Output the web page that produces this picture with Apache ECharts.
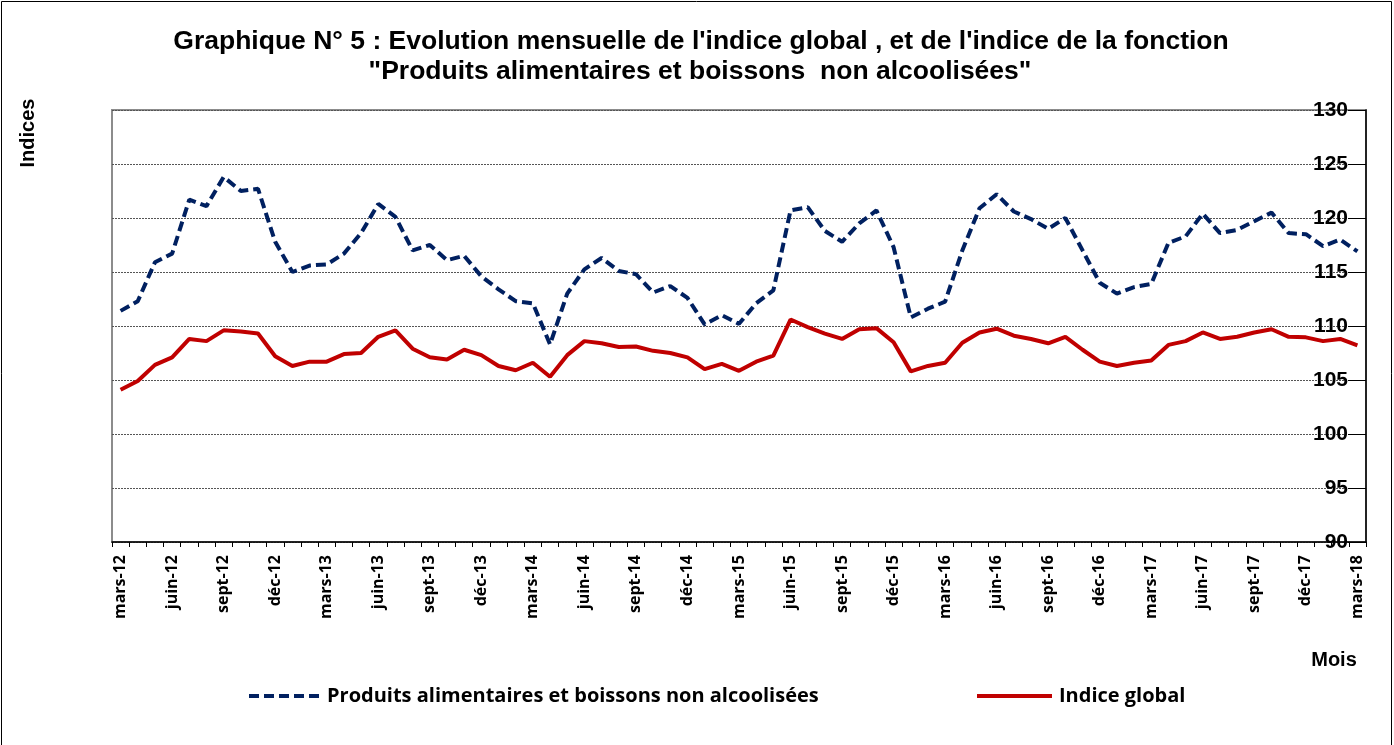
<!DOCTYPE html>
<html>
<head>
<meta charset="utf-8">
<script src="https://cdn.jsdelivr.net/npm/echarts@6/dist/echarts.min.js"></script>
<style>html,body{margin:0;padding:0;background:#fff}#c{width:1394px;height:745px}</style>
</head>
<body>
<div id="c"></div>
<script>
const monthNames = ['janv','févr','mars','avr','mai','juin','juil','août','sept','oct','nov','déc'];
const years = ['12','13','14','15','16','17','18'];
const foodName = 'Produits alimentaires et boissons non alcoolisées';
const globalName = 'Indice global';
const titleLines = ["Graphique N° 5 : Evolution mensuelle de l'indice global , et de l'indice de la fonction",
  "\"Produits alimentaires et boissons  non alcoolisées\""];
const foodValues = [111.4,112.3,115.9,116.7,121.7,121.1,123.8,122.5,122.7,117.8,115.0,115.6,
  115.7,116.7,118.6,121.3,120.1,117.0,117.5,116.1,116.5,114.6,113.4,112.3,
  112.1,108.3,113.0,115.25,116.3,115.1,114.8,113.1,113.7,112.6,110.15,111.0,
  110.2,112.1,113.3,120.7,121.0,118.8,117.8,119.5,120.7,117.3,110.8,111.6,
  112.25,117.0,120.9,122.2,120.6,119.9,119.0,120.0,117.0,114.0,113.0,113.6,
  113.9,117.7,118.3,120.4,118.6,118.9,119.7,120.5,118.6,118.5,117.4,118.0,
  116.9];
const globalValues = [104.1,104.9,106.4,107.1,108.8,108.6,109.6,109.5,109.3,107.2,106.3,106.7,
  106.7,107.4,107.5,109.0,109.6,107.9,107.1,106.9,107.8,107.3,106.3,105.9,
  106.6,105.3,107.3,108.6,108.4,108.05,108.1,107.7,107.5,107.1,106.0,106.5,
  105.85,106.7,107.25,110.6,109.9,109.3,108.8,109.7,109.8,108.5,105.8,106.3,
  106.6,108.45,109.4,109.75,109.1,108.8,108.4,109.0,107.8,106.7,106.3,106.6,
  106.8,108.25,108.6,109.4,108.8,109.0,109.4,109.7,109.0,108.95,108.6,108.8,
  108.2];
const yTicks = {min: 90, max: 130, interval: 5};

// categories mars-12 ... mars-18
const categories = [];
for (let y = 0; y < years.length; y++) {
  for (let m = 0; m < 12; m++) {
    if (y === 0 && m < 2) continue;
    if (y === years.length - 1 && m > 2) continue;
    categories.push(monthNames[m] + '-' + years[y]);
  }
}

const chart = echarts.init(document.getElementById('c'), null, {renderer: 'canvas'});
const titleFont = {fontFamily: 'Liberation Sans, Arial', fontWeight: 'bold', fontSize: 26.5, fill: '#000', align: 'center', verticalAlign: 'middle'};
const option = {
  backgroundColor: '#fff',
  animation: false,
  graphic: [
    {type: 'rect', shape: {x: 1.5, y: 1.5, width: 1390, height: 800}, style: {fill: 'none', stroke: '#000', lineWidth: 1}, silent: true},
    {type: 'text', x: 701, y: 42, style: Object.assign({text: titleLines[0]}, titleFont)},
    {type: 'text', x: 700, y: 72, style: Object.assign({text: titleLines[1]}, titleFont)},
    {type: 'text', x: 28, y: 133, rotation: Math.PI / 2,
      style: {text: 'Indices', fontFamily: 'Liberation Sans, Arial', fontWeight: 'bold', fontSize: 20, fill: '#000', align: 'center', verticalAlign: 'middle'}},
    {type: 'text', x: 1334, y: 660,
      style: {text: 'Mois', fontFamily: 'Liberation Sans, Arial', fontWeight: 'bold', fontSize: 20, fill: '#000', align: 'center', verticalAlign: 'middle'}}
  ],
  legend: [
    {left: 242, top: 681, itemWidth: 71, itemHeight: 14, itemGap: 8, data: [foodName],
      itemStyle: {opacity: 0}, lineStyle: {width: 4},
      textStyle: {fontFamily: 'Open Sans', fontWeight: 'bold', fontSize: 20, color: '#000', padding: [0, 0, 0, 2]}},
    {left: 970, top: 681, itemWidth: 75, itemHeight: 14, itemGap: 8, data: [globalName],
      itemStyle: {opacity: 0}, lineStyle: {width: 4},
      textStyle: {fontFamily: 'Open Sans', fontWeight: 'bold', fontSize: 20, color: '#000', padding: [0, 0, 0, 2]}}
  ],
  grid: {left: 112, right: 28, top: 110, bottom: 203, show: true, borderColor: '#8c8c8c', borderWidth: 2, containLabel: false},
  xAxis: {
    type: 'category',
    data: categories,
    boundaryGap: true,
    axisLine: {show: true, lineStyle: {color: '#000', width: 1.5}},
    axisTick: {show: true, interval: 0, length: 5, lineStyle: {color: '#000', width: 1}},
    axisLabel: {interval: 2, rotate: 90, margin: 13, fontFamily: 'Open Sans', fontWeight: 'bold', fontSize: 16, color: '#000'},
    splitLine: {show: false}
  },
  yAxis: {
    type: 'value',
    position: 'right',
    min: yTicks.min, max: yTicks.max, interval: yTicks.interval,
    axisLine: {show: true, lineStyle: {color: '#000', width: 1.5}},
    axisTick: {show: true, inside: true, length: 18, lineStyle: {color: '#000'}},
    axisLabel: {inside: true, margin: 18, fontFamily: 'Liberation Sans, Arial', fontWeight: 'bold', fontSize: 21, color: '#000'},
    splitLine: {show: true, lineStyle: {color: '#555', type: [2, 1], width: 1}}
  },
  series: [
    {name: foodName, type: 'line', data: foodValues, symbol: 'none', smooth: false,
      lineStyle: {color: '#002060', width: 4, type: [10, 5]}, itemStyle: {color: '#002060'}},
    {name: globalName, type: 'line', data: globalValues, symbol: 'none', smooth: false,
      lineStyle: {color: '#c00000', width: 4}, itemStyle: {color: '#c00000'}}
  ]
};
chart.setOption(option);
</script>
</body>
</html>
